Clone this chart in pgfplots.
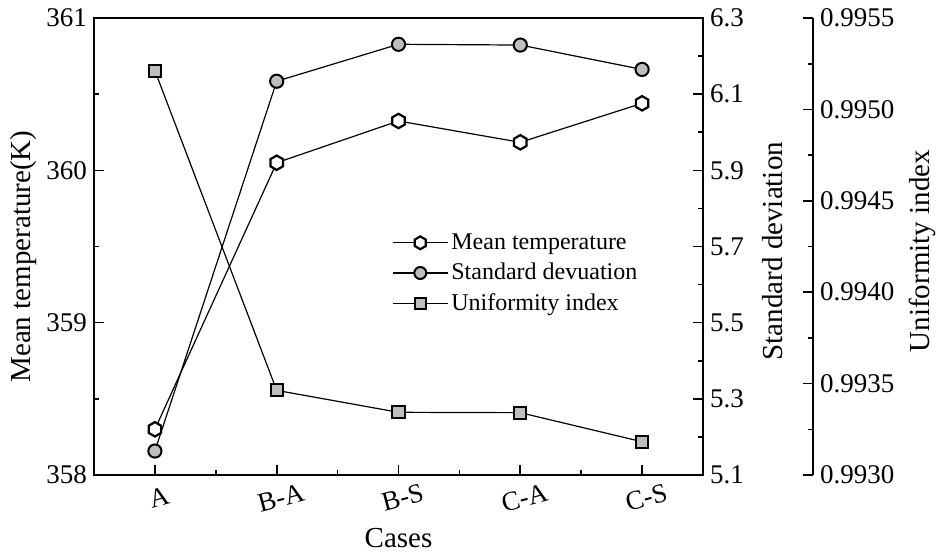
\documentclass[border=0pt]{standalone}
\usepackage{fontspec}
\setmainfont{Liberation Serif}
\usepackage{pgfplots}
\pgfplotsset{compat=1.18}
\definecolor{mgray}{RGB}{190,190,190}
\pgfdeclareplotmark{hexagon}{%
  \pgfpathmoveto{\pgfqpointpolar{90}{\pgfplotmarksize}}%
  \pgfpathlineto{\pgfqpointpolar{150}{\pgfplotmarksize}}%
  \pgfpathlineto{\pgfqpointpolar{210}{\pgfplotmarksize}}%
  \pgfpathlineto{\pgfqpointpolar{270}{\pgfplotmarksize}}%
  \pgfpathlineto{\pgfqpointpolar{330}{\pgfplotmarksize}}%
  \pgfpathlineto{\pgfqpointpolar{30}{\pgfplotmarksize}}%
  \pgfpathclose
  \pgfusepathqfillstroke}
\newcommand{\tickfont}{\fontsize{13.5}{15}\selectfont}
\newcommand{\labfont}{\fontsize{14.5}{17}\selectfont}
\pgfplotsset{
  base/.style={
    scale only axis, width=304.5pt, height=228.5pt,
    at={(47pt,39.5pt)}, anchor=south west,
    xmin=-0.5, xmax=4.5, clip=false,
    axis line style={line width=0.8pt},
    every tick/.style={black, line width=0.8pt},
    major tick length=5pt, minor tick length=2.5pt,
    tick align=inside,
    tick label style={font=\tickfont},
    label style={font=\labfont},
    /pgf/number format/assume math mode=true,
  },
  dline/.style={black, line width=0.6pt},
}
\begin{document}
\begin{tikzpicture}
\path[use as bounding box] (0,0) rectangle (469pt,277pt);
% Axis 1: left y, x axis
\begin{axis}[base,
  ymin=358, ymax=361, ytick={358,359,360,361}, minor ytick={358.5,359.5,360.5},
  xtick={0,1,2,3,4}, xticklabels={A,B-A,B-S,C-A,C-S},
  minor xtick={0.5,1.5,2.5,3.5},
  xtick pos=bottom, ytick pos=left,
  xticklabel style={yshift=-3.5pt, rotate=15, anchor=north},
  yticklabel style={/pgf/number format/fixed, /pgf/number format/precision=0},
  ylabel={Mean temperature(K)},
  ylabel style={at={(axis description cs:-0.115,0.478)}, anchor=center},
  xlabel={Cases},
  xlabel style={at={(axis description cs:0.5,-0.138)}, anchor=center},
]
\addplot[dline, mark=hexagon, mark size=3.6pt, mark options={fill=white, draw=black, line width=1.1pt, solid}]
  coordinates {(0,358.30) (1,360.05) (2,360.324) (3,360.184) (4,360.44)};
\end{axis}
% Axis 2: standard deviation (right)
\begin{axis}[base,
  axis x line=none, axis y line*=right,
  ymin=5.1, ymax=6.3, ytick={5.1,5.3,5.5,5.7,5.9,6.1,6.3},
  minor ytick={5.2,5.4,5.6,5.8,6.0,6.2},
  yticklabel style={/pgf/number format/fixed, /pgf/number format/fixed zerofill, /pgf/number format/precision=1},
  ylabel={Standard deviation},
  ylabel style={at={(axis description cs:1.115,0.49)}, anchor=center, rotate=0},
]
\addplot[dline, mark=*, mark size=3.3pt, mark options={fill=mgray, draw=black, line width=1pt, solid}]
  coordinates {(0,5.163) (1,6.134) (2,6.231) (3,6.229) (4,6.165)};
\end{axis}
% Axis 3: uniformity data (hidden) + legend
\begin{axis}[base, hide axis,
  ymin=0.9930, ymax=0.9955,
  legend style={at={(axis description cs:0.489,0.536)}, anchor=north west,
    draw=none, fill=none, font=\fontsize{12}{15}\selectfont, inner sep=0pt,
    row sep=2.5pt, nodes={inner sep=1.5pt}},
  legend cell align=left,
  legend image code/.code={\draw[mark repeat=2, mark phase=2, #1] plot coordinates {(0pt,0pt) (13.75pt,0pt) (27.5pt,0pt)};},
]
\addplot[dline, mark=square*, mark size=3pt, mark options={fill=mgray, draw=black, line width=1pt, solid}, forget plot]
  coordinates {(0,0.995212) (1,0.993463) (2,0.993343) (3,0.993341) (4,0.993182)};
\addlegendimage{dline, mark=hexagon, mark size=3.2pt, mark options={fill=white, draw=black, line width=1.1pt, solid}}
\addlegendentry{Mean temperature}
\addlegendimage{dline, mark=*, mark size=3pt, mark options={fill=mgray, draw=black, line width=1pt, solid}}
\addlegendentry{Standard devuation}
\addlegendimage{dline, mark=square*, mark size=2.8pt, mark options={fill=mgray, draw=black, line width=1pt, solid}}
\addlegendentry{Uniformity index}
\end{axis}
% Axis 4: uniformity axis line (offset)
\begin{axis}[base, width=359.5pt, xmin=0, xmax=1,
  axis x line=none, axis y line*=right,
  ymin=0.9930, ymax=0.9955,
  ytick={0.9930,0.9935,0.9940,0.9945,0.9950,0.9955},
  minor ytick={0.99325,0.99375,0.99425,0.99475,0.99525},
  scaled y ticks=false,
  yticklabel style={/pgf/number format/fixed, /pgf/number format/fixed zerofill, /pgf/number format/precision=4},
  ylabel={Uniformity index},
  ylabel style={at={(axis description cs:1.1516,0.49)}, anchor=center, rotate=0},
]
\end{axis}
\end{tikzpicture}
\end{document}
